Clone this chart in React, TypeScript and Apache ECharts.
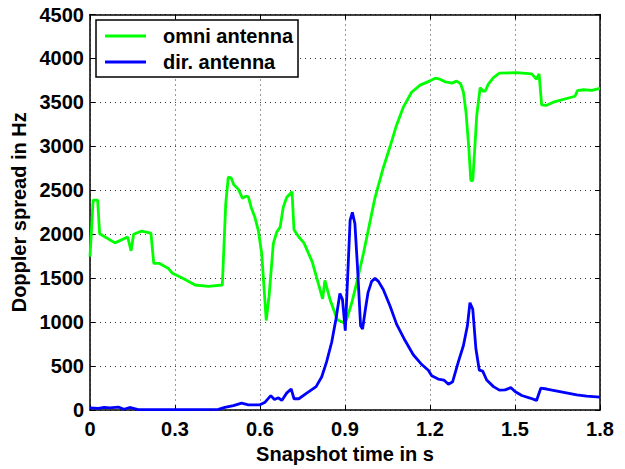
import React, { useEffect, useRef } from "react";
import * as echarts from "echarts";

const xTicks = [0, 0.3, 0.6, 0.9, 1.2, 1.5, 1.8];
const yTicks = [0, 500, 1000, 1500, 2000, 2500, 3000, 3500, 4000, 4500];

const omniTime = [
  0, 0.011, 0.027, 0.034, 0.088, 0.133, 0.145, 0.154, 0.182, 0.215, 0.225, 0.244, 0.277, 0.291,
  0.324, 0.371, 0.418, 0.467, 0.479, 0.488, 0.498, 0.507, 0.524, 0.538, 0.55, 0.559, 0.568, 0.582,
  0.594, 0.606, 0.622, 0.632, 0.647, 0.659, 0.671, 0.682, 0.694, 0.713, 0.72, 0.737, 0.755, 0.784,
  0.802, 0.821, 0.829, 0.847, 0.873, 0.894, 0.906, 0.924, 0.941, 0.965, 0.994, 1.006, 1.035, 1.059,
  1.08, 1.106, 1.135, 1.165, 1.2, 1.218, 1.235, 1.253, 1.265, 1.277, 1.294, 1.308, 1.318, 1.327,
  1.337, 1.344, 1.351, 1.358, 1.365, 1.377, 1.386, 1.395, 1.406, 1.424, 1.445, 1.506, 1.559, 1.576,
  1.585, 1.594, 1.61, 1.635, 1.712, 1.72, 1.741, 1.771, 1.8,
];
const omniValues = [
  1745, 2388, 2388, 2006, 1902, 1969, 1812, 2000, 2036, 2014, 1670, 1670, 1610, 1557,
  1506, 1423, 1408, 1423, 2343, 2650, 2642, 2567, 2511, 2410, 2433, 2426, 2314, 2193,
  2044, 1782, 1019, 1296, 1894, 2025, 2081, 2306, 2418, 2485, 2051, 1969, 1902, 1689,
  1483, 1266, 1476, 1259, 1027, 997, 1034, 1221, 1445, 1782, 2232, 2418, 2754, 2998,
  3222, 3447, 3615, 3697, 3745, 3776, 3764, 3734, 3727, 3719, 3742, 3712, 3615, 3391,
  2979, 2612, 2612, 2979, 3353, 3667, 3630, 3630, 3708, 3783, 3832, 3839, 3824, 3764,
  3824, 3473, 3465, 3503, 3570, 3633, 3644, 3637, 3660,
];

const dirTime = [
  0, 0.03, 0.05, 0.07, 0.1, 0.12, 0.14, 0.17, 0.3, 0.453, 0.476, 0.506, 0.535, 0.559, 0.6,
  0.618, 0.638, 0.651, 0.665, 0.677, 0.694, 0.71, 0.72, 0.737, 0.765, 0.798, 0.818, 0.835,
  0.853, 0.868, 0.882, 0.891, 0.901, 0.911, 0.918, 0.926, 0.935, 0.944, 0.955, 0.962, 0.972,
  0.981, 0.994, 1.006, 1.018, 1.035, 1.059, 1.082, 1.112, 1.141, 1.171, 1.194, 1.206, 1.229,
  1.249, 1.265, 1.28, 1.3, 1.318, 1.332, 1.341, 1.351, 1.362, 1.374, 1.386, 1.4, 1.424, 1.445,
  1.465, 1.485, 1.5, 1.524, 1.553, 1.576, 1.591, 1.612, 1.718, 1.753, 1.8,
];
const dirValues = [
  25, 20, 30, 25, 35, 10, 30, 5, 5, 8, 30, 50, 80, 60, 60,
  90, 165, 120, 140, 110, 193, 241, 129, 129, 193, 267, 379, 548,
  772, 1034, 1326, 1259, 903, 1633, 2157, 2250, 2119, 1633, 959, 922, 1147,
  1333, 1464, 1498, 1464, 1371, 1184, 978, 791, 630, 518, 454, 391, 353,
  342, 294, 323, 548, 735, 959, 1221, 1147, 698, 454, 443, 342, 267, 227,
  230, 256, 211, 166, 137, 110, 249, 240, 174, 160, 148,
];

const FONT = "'Liberation Sans', Arial, Helvetica, sans-serif";

export default function App() {
  const ref = useRef<HTMLDivElement>(null);
  useEffect(() => {
    if (!ref.current) return;
    const chart = echarts.init(ref.current, null, { renderer: "svg" });
    const labelStyle = { fontFamily: FONT, fontWeight: "bold", fontSize: 20, color: "#000" };
    const omniData = omniTime.map((t, i) => [t, omniValues[i]]);
    const dirData = dirTime.map((t, i) => [t, dirValues[i]]);
    const xMin = xTicks[0];
    const xMax = xTicks[xTicks.length - 1];
    const xInt = xTicks[1] - xTicks[0];
    const yMin = yTicks[0];
    const yMax = yTicks[yTicks.length - 1];
    const yInt = yTicks[1] - yTicks[0];
    chart.setOption({
      animation: false,
      backgroundColor: "#fff",
      grid: { left: 90, right: 25, top: 14.5, bottom: 53.5, containLabel: false },
      legend: {
        left: 96,
        top: 20,
        orient: "vertical",
        backgroundColor: "#fff",
        borderColor: "#000",
        borderWidth: 1.5,
        borderRadius: 0,
        padding: [6, 5, 5, 9],
        itemWidth: 41,
        itemHeight: 14,
        itemGap: 6,
        textStyle: { ...labelStyle, fontSize: 20, lineHeight: 20, padding: [0, 0, 0, 12] },
        data: [
          { name: "omni antenna", icon: "path://M0,5.5 L40,5.5 L40,8.5 L0,8.5 Z" },
          { name: "dir. antenna", icon: "path://M0,5.5 L40,5.5 L40,8.5 L0,8.5 Z" },
        ],
      },
      xAxis: [
        {
          type: "value",
          min: xMin,
          max: xMax,
          interval: xInt,
          name: "Snapshot time in s",
          nameLocation: "middle",
          nameGap: 30,
          nameTextStyle: { ...labelStyle, fontSize: 20 },
          axisLine: { show: true, onZero: false, lineStyle: { color: "#000", width: 1.5 } },
          axisTick: { show: true, inside: true, length: 5, lineStyle: { color: "#000" } },
          axisLabel: {
            ...labelStyle,
            margin: 9,
            formatter: (v: number) => (Math.abs(v) < 1e-9 ? "0" : v.toFixed(1)),
          },
          splitLine: { show: true, lineStyle: { color: "#333", type: [1, 4], width: 1 } },
        },
        {
          type: "value",
          position: "top",
          min: xMin,
          max: xMax,
          interval: xInt,
          axisLine: { show: true, onZero: false, lineStyle: { color: "#000", width: 1.5 } },
          axisTick: { show: true, inside: true, length: 5, lineStyle: { color: "#000" } },
          axisLabel: { show: false },
          splitLine: { show: false },
        },
      ],
      yAxis: [
        {
          type: "value",
          min: yMin,
          max: yMax,
          interval: yInt,
          name: "Doppler spread in Hz",
          nameLocation: "middle",
          nameGap: 57,
          nameTextStyle: { ...labelStyle, fontSize: 20 },
          axisLine: { show: true, onZero: false, lineStyle: { color: "#000", width: 1.5 } },
          axisTick: { show: true, inside: true, length: 5, lineStyle: { color: "#000" } },
          axisLabel: { ...labelStyle, margin: 6, formatter: (v: number) => String(v) },
          splitLine: { show: true, lineStyle: { color: "#333", type: [1, 4], width: 1 } },
        },
        {
          type: "value",
          position: "right",
          min: yMin,
          max: yMax,
          interval: yInt,
          axisLine: { show: true, onZero: false, lineStyle: { color: "#000", width: 1.5 } },
          axisTick: { show: true, inside: true, length: 5, lineStyle: { color: "#000" } },
          axisLabel: { show: false },
          splitLine: { show: false },
        },
      ],
      series: [
        {
          name: "omni antenna",
          type: "line",
          data: omniData,
          symbol: "none",
          color: "#00ff00",
          lineStyle: { color: "#00ff00", width: 2.8 },
          z: 2,
        },
        {
          name: "dir. antenna",
          type: "line",
          data: dirData,
          symbol: "none",
          color: "#0000ff",
          lineStyle: { color: "#0000ff", width: 2.8 },
          z: 3,
        },
      ],
    });
    return () => chart.dispose();
  }, []);
  return <div ref={ref} style={{ width: 625, height: 469, position: "absolute", left: 0, top: 0 }} />;
}
